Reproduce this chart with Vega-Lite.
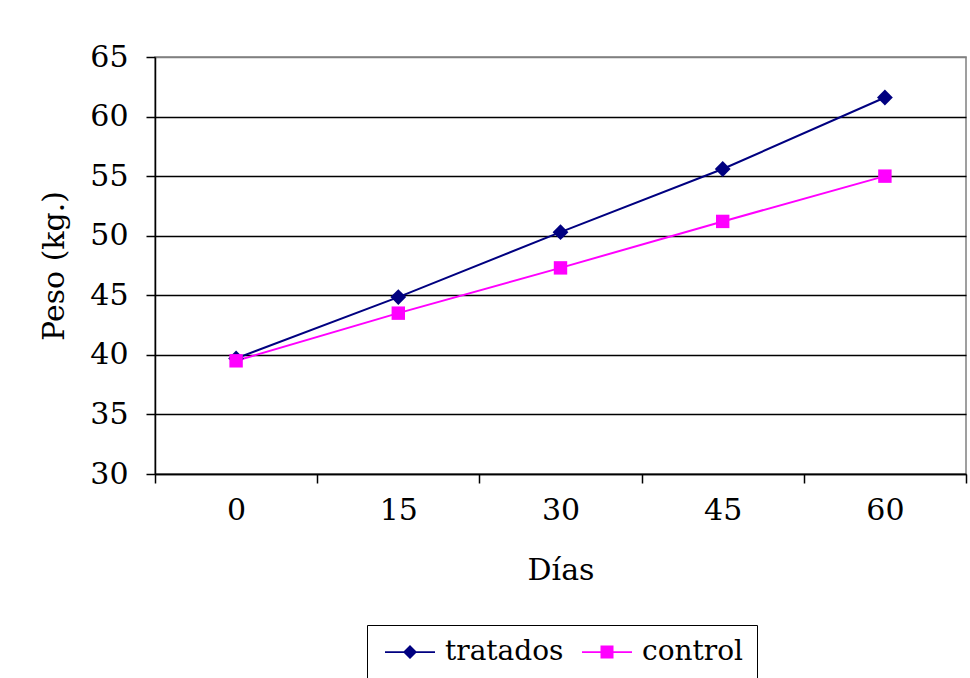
{
  "$schema": "https://vega.github.io/schema/vega-lite/v6.json",
  "width": 811,
  "height": 417,
  "autosize": "none",
  "padding": {"left": 155, "top": 57, "right": 4, "bottom": 204},
  "background": "white",
  "config": {
    "font": "DejaVu Serif",
    "view": {"stroke": "#808080", "strokeWidth": 1.5},
    "axis": {
      "labelFont": "DejaVu Serif",
      "titleFont": "DejaVu Serif",
      "labelFontSize": 30,
      "titleFontSize": 30,
      "titleFontWeight": "normal",
      "labelColor": "black",
      "titleColor": "black",
      "domainColor": "black",
      "tickColor": "black",
      "domainWidth": 1.5,
      "tickWidth": 1.5
    },
    "legend": {
      "labelFont": "DejaVu Serif",
      "labelFontSize": 28,
      "labelColor": "black"
    }
  },
  "data": {
    "values": [
      {"dia": 0, "peso": 39.7, "serie": "tratados"},
      {"dia": 15, "peso": 44.85, "serie": "tratados"},
      {"dia": 30, "peso": 50.3, "serie": "tratados"},
      {"dia": 45, "peso": 55.6, "serie": "tratados"},
      {"dia": 60, "peso": 61.6, "serie": "tratados"},
      {"dia": 0, "peso": 39.5, "serie": "control"},
      {"dia": 15, "peso": 43.5, "serie": "control"},
      {"dia": 30, "peso": 47.3, "serie": "control"},
      {"dia": 45, "peso": 51.2, "serie": "control"},
      {"dia": 60, "peso": 55.0, "serie": "control"}
    ]
  },
  "encoding": {
    "x": {
      "field": "dia",
      "type": "ordinal",
      "bandPosition": 0.5,
      "scale": {"type": "band", "paddingInner": 0, "paddingOuter": 0},
      "axis": {
        "title": "Días",
        "labelAngle": 0,
        "tickBand": "extent",
        "tickSize": 9,
        "labelPadding": 12,
        "titlePadding": 30,
        "grid": false
      }
    },
    "y": {
      "field": "peso",
      "type": "quantitative",
      "scale": {"domain": [30, 65], "nice": false, "zero": false},
      "axis": {
        "title": "Peso (kg.)",
        "values": [30, 35, 40, 45, 50, 55, 60, 65],
        "tickSize": 9,
        "labelPadding": 18,
        "titlePadding": 20,
        "grid": true,
        "gridWidth": 1.5,
        "gridColor": {
          "condition": {"test": "datum.value == 65", "value": "#808080"},
          "value": "black"
        }
      }
    }
  },
  "layer": [
    {
      "mark": {"type": "line", "strokeWidth": 2},
      "encoding": {
        "color": {
          "field": "serie",
          "type": "nominal",
          "scale": {"domain": ["tratados", "control"], "range": ["#000080", "#FF00FF"]},
          "legend": null
        }
      }
    },
    {
      "mark": {"type": "point", "filled": true, "opacity": 1},
      "encoding": {
        "color": {
          "field": "serie",
          "type": "nominal",
          "scale": {"domain": ["tratados", "control"], "range": ["#000080", "#FF00FF"]},
          "legend": null
        },
        "shape": {
          "field": "serie",
          "type": "nominal",
          "scale": {"domain": ["tratados", "control"], "range": ["diamond", "square"]},
          "legend": null
        },
        "size": {
          "field": "serie",
          "type": "nominal",
          "scale": {"domain": ["tratados", "control"], "range": [250, 180]},
          "legend": null
        }
      }
    },
    {
      "transform": [{"filter": "datum.serie == 'leyenda'"}],
      "mark": {"type": "point", "filled": true, "opacity": 1},
      "encoding": {
        "color": {
          "field": "serie",
          "type": "nominal",
          "scale": {"domain": ["tratados", "control"], "range": ["#000080", "#FF00FF"]},
          "legend": {
            "title": null,
            "orient": "none",
            "legendX": 212,
            "legendY": 568,
            "direction": "horizontal",
            "strokeColor": "black",
            "padding": 13,
            "symbolSize": 625,
            "symbolStrokeWidth": 0,
            "symbolOpacity": 1,
            "labelOffset": 37,
            "columnPadding": 13
          }
        },
        "shape": {
          "field": "serie",
          "type": "nominal",
          "scale": {
            "domain": ["tratados", "control"],
            "range": [
              "M-0.72,-0.07H3.28V0.07H-0.72Z M1.28,-0.56L1.84,0L1.28,0.56L0.72,0Z",
              "M-0.72,-0.07H3.28V0.07H-0.72Z M0.76,-0.52H1.8V0.52H0.76Z"
            ]
          },
          "legend": {
            "title": null,
            "orient": "none",
            "legendX": 212,
            "legendY": 568,
            "direction": "horizontal",
            "strokeColor": "black",
            "padding": 13,
            "symbolSize": 625,
            "symbolStrokeWidth": 0,
            "symbolOpacity": 1,
            "labelOffset": 37,
            "columnPadding": 13
          }
        }
      }
    }
  ],
  "resolve": {"scale": {"shape": "independent", "color": "independent", "size": "independent"}}
}
